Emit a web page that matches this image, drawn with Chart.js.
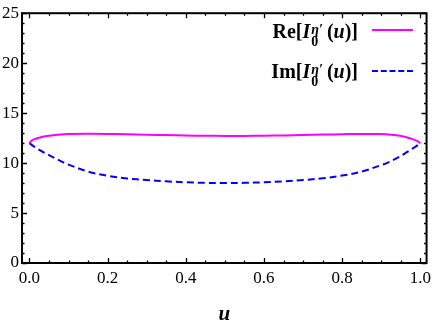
<!DOCTYPE html>
<html>
<head>
<meta charset="utf-8">
<script src="https://cdn.jsdelivr.net/npm/chart.js@4"></script>
<style>
  html, body { margin:0; padding:0; background:#fff; }
  #wrap { position:relative; width:436px; height:327px; }
  canvas { display:block; }
  .row { position:absolute; right:78px; font-family:"Liberation Serif", serif; font-weight:bold; font-size:20px; color:#000; white-space:nowrap; line-height:1; }
  .ss { display:inline-block; vertical-align:-0.38em; line-height:0.85; text-align:left; margin-left:1px; margin-right:4px; }
  .ss span { display:block; font-size:14px; }
  .ss .sup { font-style:italic; }
  .sample { position:absolute; left:372px; width:41px; height:0; }
</style>
</head>
<body>
<div id="wrap">
  <canvas id="c" width="436" height="327"></canvas>
  <div class="row" style="top:21px;">Re[<i>I</i><span class="ss"><span class="sup">η′</span><span>0</span></span>(<i>u</i>)]</div>
  <div class="sample" style="top:29px; border-top:2px solid #ff00ff;"></div>
  <div class="row" style="top:61px;">Im[<i>I</i><span class="ss"><span class="sup">η′</span><span>0</span></span>(<i>u</i>)]</div>
  <div class="sample" style="top:70px; border-top:2px dashed #0000ff;"></div>
</div>
<script>
const uValues = [0, 0.005, 0.01, 0.02, 0.04, 0.06, 0.08, 0.1, 0.15, 0.2, 0.25, 0.3, 0.35, 0.4, 0.45, 0.5, 0.55, 0.6, 0.65, 0.7, 0.75, 0.8, 0.85, 0.9, 0.92, 0.94, 0.96, 0.98, 0.99, 0.995, 1.0];
const reValues = [12.0, 12.2, 12.34, 12.48, 12.68, 12.78, 12.86, 12.9, 12.93, 12.92, 12.88, 12.84, 12.8, 12.76, 12.73, 12.72, 12.72, 12.74, 12.77, 12.8, 12.85, 12.89, 12.92, 12.9, 12.86, 12.78, 12.64, 12.4, 12.24, 12.14, 12.0];
const imValues = [12.0, 11.85, 11.7, 11.45, 11.0, 10.6, 10.2, 9.85, 9.15, 8.72, 8.46, 8.3, 8.17, 8.08, 8.02, 8.0, 8.02, 8.08, 8.17, 8.3, 8.48, 8.75, 9.15, 9.8, 10.1, 10.5, 10.95, 11.45, 11.7, 11.85, 12.0];
const xTickLabels = ["0.0", "0.2", "0.4", "0.6", "0.8", "1.0"];
const yTickLabels = ["0", "5", "10", "15", "20", "25"];

const toPts = (ys) => uValues.map((u, i) => ({ x: u, y: ys[i] }));

const frameTicks = {
  id: 'frameTicks',
  afterDraw(chart) {
    const ctx = chart.ctx, a = chart.chartArea;
    const xs = chart.scales.x, ys = chart.scales.y;
    ctx.save();
    ctx.strokeStyle = '#000';
    ctx.lineWidth = 1.3;
    ctx.beginPath();
    for (let k = 0; k <= 20; k++) {
      const v = k * 0.05;
      const px = Math.round(xs.getPixelForValue(v)) + 0.5;
      const len = (k % 4 === 0) ? 5 : 2.5;
      ctx.moveTo(px, a.bottom); ctx.lineTo(px, a.bottom - len);
      ctx.moveTo(px, a.top); ctx.lineTo(px, a.top + len);
    }
    for (let k = 0; k <= 25; k++) {
      const py = Math.round(ys.getPixelForValue(k)) + 0.5;
      const len = (k % 5 === 0) ? 5 : 2.5;
      ctx.moveTo(a.left, py); ctx.lineTo(a.left + len, py);
      ctx.moveTo(a.right, py); ctx.lineTo(a.right - len, py);
    }
    ctx.stroke();
    ctx.lineWidth = 2;
    ctx.strokeRect(a.left, a.top, a.right - a.left, a.bottom - a.top);
    ctx.restore();
  }
};

new Chart(document.getElementById('c'), {
  type: 'line',
  data: {
    datasets: [
      { label: 'Re', data: toPts(reValues), borderColor: '#ff00ff', borderWidth: 2, pointRadius: 0, tension: 0.35, fill: false },
      { label: 'Im', data: toPts(imValues), borderColor: '#0000ff', borderWidth: 2, borderDash: [7, 4], pointRadius: 0, tension: 0.35, fill: false }
    ]
  },
  options: {
    responsive: false,
    animation: false,
    layout: { padding: { top: 9, right: 4, left: 0, bottom: 0 } },
    plugins: { legend: { display: false }, tooltip: { enabled: false } },
    scales: {
      x: {
        type: 'linear', min: -0.019, max: 1.016,
        afterBuildTicks: (s) => { s.ticks = xTickLabels.map(t => ({ value: parseFloat(t) })); },
        ticks: { callback: (v) => xTickLabels.find(t => Math.abs(parseFloat(t) - v) < 1e-6), color: '#000', font: { family: 'Liberation Serif', size: 17 }, padding: 5, maxRotation: 0 },
        grid: { display: false, drawTicks: false },
        border: { display: false },
        title: { display: true, text: 'u', color: '#000', font: { family: 'Liberation Serif', size: 21, style: 'italic', weight: 'bold' }, padding: { top: 11, bottom: 0 } },
        afterFit: (s) => { s.height = 64; }
      },
      y: {
        type: 'linear', min: 0, max: 25,
        afterBuildTicks: (s) => { s.ticks = yTickLabels.map(t => ({ value: parseFloat(t) })); },
        ticks: { callback: (v) => String(v), color: '#000', font: { family: 'Liberation Serif', size: 17 }, padding: 3 },
        grid: { display: false, drawTicks: false },
        border: { display: false },
        afterFit: (s) => { s.width = 22; }
      }
    }
  },
  plugins: [frameTicks]
});
</script>
</body>
</html>
